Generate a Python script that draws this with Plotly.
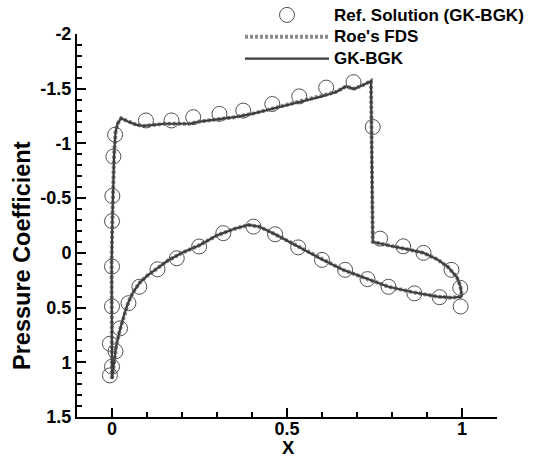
import plotly.graph_objects as go

# Upper surface (stagnation point -> suction side -> shock -> trailing edge)
upper_x = [0.000, 0.000, -0.002, -0.001, 0.001, 0.003, 0.006, 0.010, 0.016, 0.026, 0.045, 0.07, 0.09,
           0.12, 0.15, 0.19, 0.22, 0.25, 0.30, 0.35, 0.40, 0.45, 0.50, 0.55, 0.60, 0.64, 0.668,
           0.692, 0.715, 0.740, 0.745, 0.76, 0.80, 0.85, 0.89, 0.93, 0.96, 0.985, 0.995, 1.0]
upper_cp = [1.15, 0.90, 0.50, 0.10, -0.30, -0.60, -0.90, -1.10, -1.18, -1.23, -1.20, -1.17, -1.16,
            -1.17, -1.18, -1.18, -1.18, -1.20, -1.22, -1.24, -1.27, -1.31, -1.35, -1.39, -1.43, -1.47, -1.52,
            -1.50, -1.53, -1.57, -0.10, -0.09, -0.06, -0.03, 0.00, 0.06, 0.13, 0.22, 0.30, 0.40]

# Lower surface (stagnation point -> trailing edge)
lower_x = [0.000, 0.005, 0.012, 0.023, 0.035, 0.047, 0.06, 0.08, 0.10, 0.13, 0.16, 0.20, 0.25,
           0.30, 0.35, 0.39, 0.42, 0.466, 0.53, 0.60, 0.66, 0.73, 0.79, 0.86, 0.93, 0.97, 1.0]
lower_cp = [1.15, 1.00, 0.85, 0.70, 0.56, 0.45, 0.36, 0.27, 0.21, 0.14, 0.07, 0.00, -0.07,
            -0.16, -0.22, -0.255, -0.24, -0.17, -0.06, 0.06, 0.155, 0.24, 0.31, 0.36, 0.40, 0.41, 0.40]

# Reference solution (GK-BGK) symbols
ref_x = [0.009, 0.004, 0.001, 0.000, 0.000, 0.000, -0.006, 0.000, -0.006,
         0.097, 0.170, 0.232, 0.307, 0.375, 0.458, 0.535, 0.612, 0.690, 0.745,
         0.766, 0.832, 0.890, 0.970, 0.995,
         0.010, 0.023, 0.047, 0.078, 0.130, 0.185, 0.249, 0.318, 0.404, 0.466,
         0.532, 0.600, 0.666, 0.730, 0.790, 0.864, 0.936, 0.996]
ref_cp = [-1.08, -0.88, -0.52, -0.29, 0.125, 0.49, 0.83, 1.04, 1.12,
          -1.21, -1.21, -1.24, -1.27, -1.30, -1.36, -1.43, -1.51, -1.56, -1.15,
          -0.13, -0.06, 0.00, 0.155, 0.32,
          0.90, 0.69, 0.46, 0.31, 0.15, 0.049, -0.058, -0.18, -0.24, -0.17,
          -0.05, 0.064, 0.155, 0.24, 0.31, 0.37, 0.405, 0.49]

x_tickvals = [0, 0.5, 1]
x_ticktext = ["0", "0.5", "1"]
y_tickvals = [-2, -1.5, -1, -0.5, 0, 0.5, 1, 1.5]
y_ticktext = ["-2", "-1.5", "-1", "-0.5", "0", "0.5", "1", "1.5"]

series_names = ["Ref. Solution (GK-BGK)", "Roe's FDS", "GK-BGK"]

roe_color = "#8a8a8a"
gk_color = "#3c3c3c"


def legend_label(s):
    return '<span style="font-size:17px">' + s + '</span>'


fig = go.Figure()

# Roe's FDS (drawn first, beneath)
for i, (xs, ys) in enumerate([(upper_x, upper_cp), (lower_x, lower_cp)]):
    fig.add_trace(go.Scatter(x=xs, y=ys, mode="lines", name=legend_label(series_names[1]),
                             line=dict(color=roe_color, width=4, dash="3px,2px"),
                             legendgroup="roe", showlegend=(i == 0), legendrank=2))
# GK-BGK
for i, (xs, ys) in enumerate([(upper_x, upper_cp), (lower_x, lower_cp)]):
    fig.add_trace(go.Scatter(x=xs, y=ys, mode="lines", name=legend_label(series_names[2]),
                             line=dict(color=gk_color, width=2.2),
                             legendgroup="gk", showlegend=(i == 0), legendrank=3))
# Reference
fig.add_trace(go.Scatter(x=ref_x, y=ref_cp, mode="markers", name=legend_label(series_names[0]),
                         marker=dict(symbol="circle-open", size=15, color="#505050",
                                     line=dict(width=1, color="#505050")),
                         legendgroup="ref", legendrank=1))

font_family = "Liberation Sans, Arial, sans-serif"
W, H = 533, 457
L, R, T, B = 77, 36, 34, 40
pw = W - L - R
ph = H - T - B

fig.update_layout(
    width=W, height=H,
    margin=dict(l=L, r=R, t=T, b=B, autoexpand=False),
    plot_bgcolor="white", paper_bgcolor="white",
    font=dict(family=font_family, color="black"),
    showlegend=True,
    legend=dict(x=(240 - L) / pw, y=1 + 35 / ph, xanchor="left", yanchor="top",
                bgcolor="rgba(0,0,0,0)", itemwidth=84, tracegroupgap=0,
                font=dict(family=font_family, size=14.5, color="black", weight="bold")),
    xaxis=dict(range=[-0.1, 1.1], showline=True, linewidth=2, linecolor="black",
               ticks="inside", ticklen=9, tickwidth=2, tickcolor="black",
               tickvals=x_tickvals, ticktext=x_ticktext, ticklabelstandoff=-6,
               tickfont=dict(size=18, weight="bold", family=font_family),
               minor=dict(dtick=0.1, ticks="inside", ticklen=5, tickwidth=1.5, tickcolor="black"),
               showgrid=False, zeroline=False, mirror=False, automargin=False),
    yaxis=dict(range=[1.5, -2], showline=True, linewidth=2, linecolor="black",
               ticks="inside", ticklen=9, tickwidth=2, tickcolor="black",
               tickvals=y_tickvals, ticktext=y_ticktext,
               tickfont=dict(size=18, weight="bold", family=font_family),
               minor=dict(dtick=0.1, ticks="inside", ticklen=5, tickwidth=1.5, tickcolor="black"),
               showgrid=False, zeroline=False, mirror=False, automargin=False),
    annotations=[
        dict(text="Pressure Coefficient", x=(22 - L) / pw, y=(H - B - 256) / ph,
             xref="paper", yref="paper", xanchor="center", yanchor="middle",
             showarrow=False, textangle=-90,
             font=dict(size=23.5, weight="bold", family=font_family)),
        dict(text="X", x=(288 - L) / pw, y=(H - B - 447) / ph, xref="paper", yref="paper",
             showarrow=False, xanchor="center", yanchor="middle",
             font=dict(size=18.5, weight="bold", family=font_family)),
    ],
)

# remove the browser's default 8px page margin so the figure fills the window
fig.write_html("out.html", config={"displayModeBar": False},
               post_script="document.body.style.margin='0';")
